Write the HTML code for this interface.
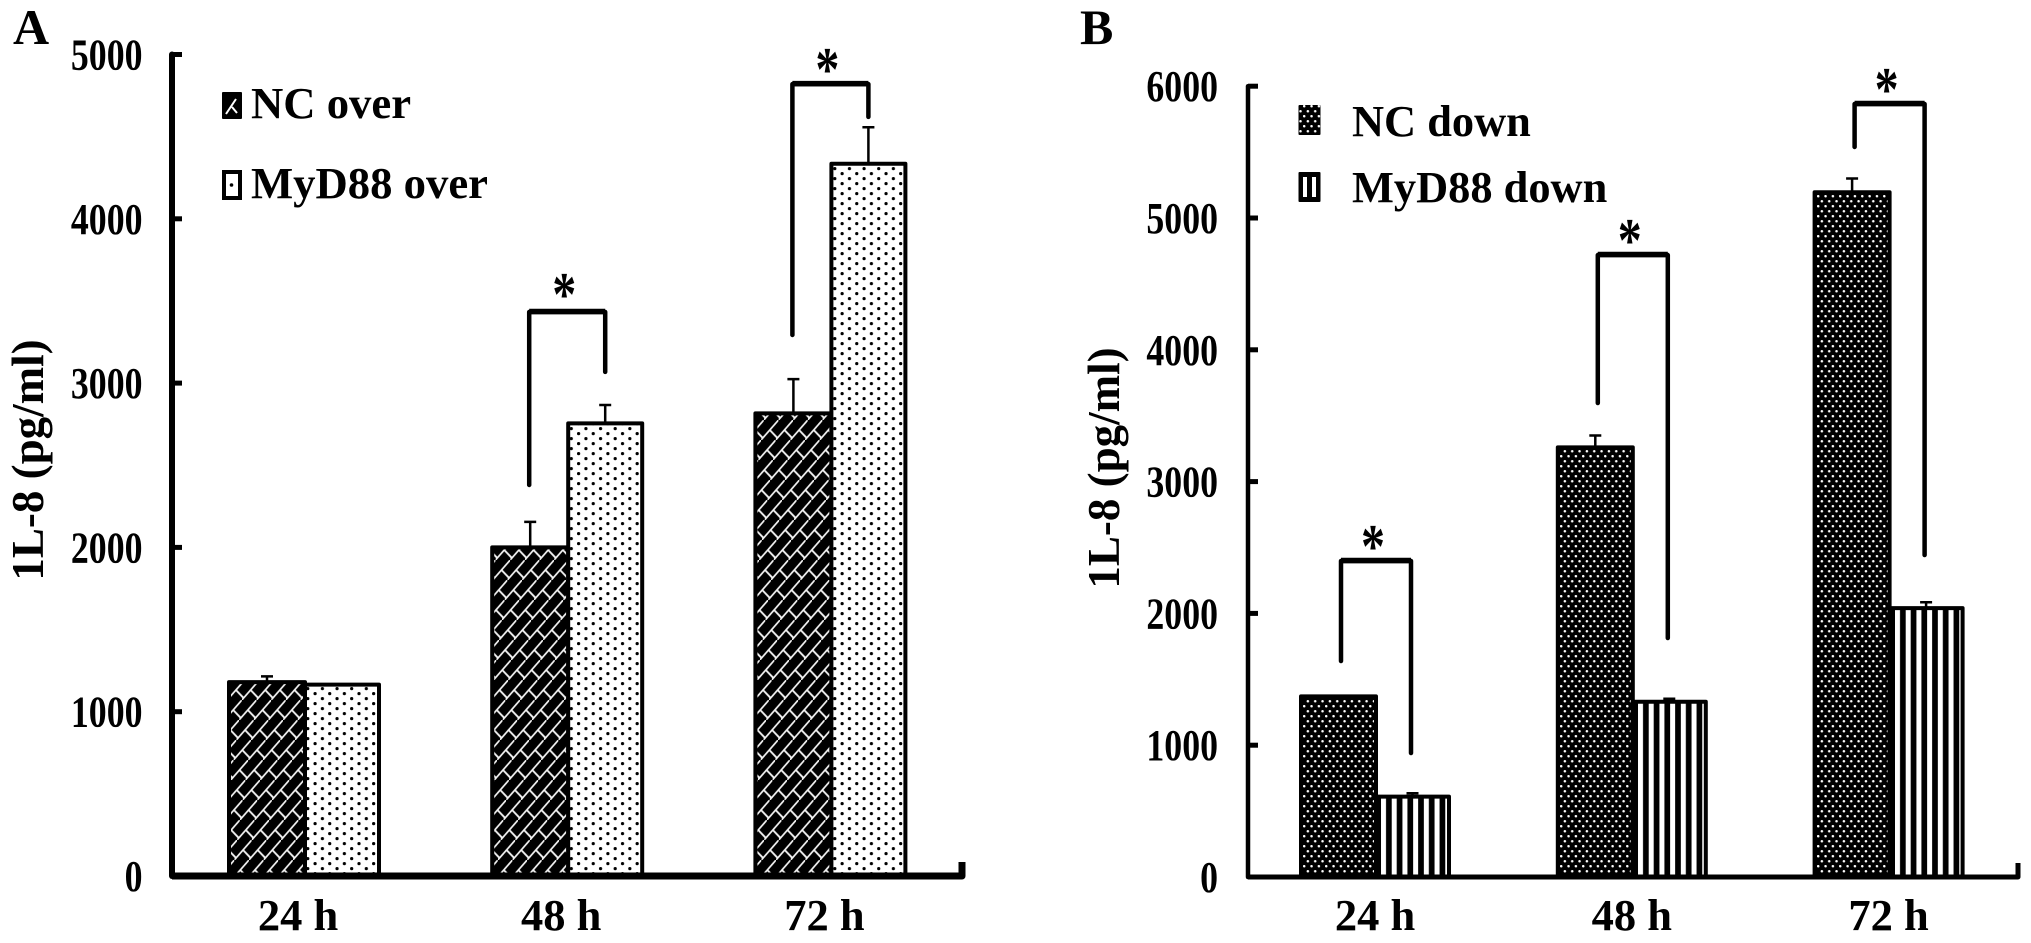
<!DOCTYPE html>
<html lang="en">
<head>
<meta charset="utf-8">
<title>IL-8 bar charts</title>
<style>
html,body{margin:0;padding:0;background:#fff;}
svg{display:block;}
text{font-family:"Liberation Serif",serif;font-weight:bold;fill:#000;}
</style>
</head>
<body>
<svg id="figure" xmlns="http://www.w3.org/2000/svg" width="2031" height="943" viewBox="0 0 2031 943">
<defs>
<pattern id="brick" patternUnits="userSpaceOnUse" width="14.64" height="20" patternTransform="translate(490,600) skewX(-7.9)">
<rect width="14.64" height="20" fill="#000"/>
<path d="M-1,21.36 L15.64,-1.36 M7.32,10 L16.1,18 M-7.32,10 L1.46,18" stroke="#f4f4f4" stroke-width="1.8" fill="none"/>
</pattern>
<pattern id="sparse-dots" patternUnits="userSpaceOnUse" width="14.64" height="10" patternTransform="translate(577,432)">
<rect width="14.64" height="10" fill="#fff"/>
<circle cx="1.6" cy="1.6" r="1.6" fill="#000"/>
<circle cx="8.92" cy="6.6" r="1.6" fill="#000"/>
</pattern>
<pattern id="white-dots" patternUnits="userSpaceOnUse" width="7.343" height="10" patternTransform="translate(1817,195)">
<rect width="7.343" height="10" fill="#000"/>
<circle cx="1.2" cy="1.2" r="1.25" fill="#fff"/>
<circle cx="4.87" cy="6.2" r="1.25" fill="#fff"/>
</pattern>
<pattern id="stripes" patternUnits="userSpaceOnUse" width="10.708" height="10" patternTransform="translate(1895,0)">
<rect width="10.708" height="10" fill="#000"/>
<rect width="5" height="10" fill="#fff"/>
</pattern>
</defs>

<text x="13" y="44" font-size="50">A</text>
<text x="1080" y="44" font-size="50">B</text>

<text transform="translate(43,460) rotate(-90)" text-anchor="middle" font-size="45">1L-8 (pg/ml)</text>
<text transform="translate(1119,468) rotate(-90)" text-anchor="middle" font-size="45">1L-8 (pg/ml)</text>

<g id="panel-a"></g>
<g id="panel-b"></g>

<g>
<g>
<rect x="222" y="92" width="20" height="27" rx="1" fill="#000"/>
<path d="M226,114 L236,99 M232,107 L237,113" stroke="#fff" stroke-width="2" fill="none"/>
<text x="251" y="118" font-size="44.7">NC over</text>
</g>
<g>
<rect x="224" y="172" width="16" height="26" fill="#fff" stroke="#000" stroke-width="4"/>
<circle cx="231.5" cy="185" r="1.8" fill="#000"/>
<text x="251" y="198" font-size="44.7">MyD88 over</text>
</g>
</g>

<g>
<g>
<rect x="1298.5" y="105" width="22" height="30" rx="1" fill="url(#white-dots)"/>
<text x="1352" y="136" font-size="44.4">NC down</text>
</g>
<g>
<rect x="1298.5" y="172" width="22" height="30" rx="1" fill="#000"/>
<rect x="1303" y="177" width="4" height="20" fill="#fff"/>
<rect x="1312" y="177" width="4" height="20" fill="#fff"/>
<text x="1352" y="202" font-size="44.4">MyD88 down</text>
</g>
</g>

<script>
// Shared categories
var categories = ['24 h', '48 h', '72 h'];

// Panel A data
var aTicks = [0, 1000, 2000, 3000, 4000, 5000];
var aNcValues = [1180, 2000, 2816];
var aNcErrors = [35, 155, 208];
var aMydValues = [1165, 2755, 4335];
var aMydErrors = [0, 112, 222];
var aBracketTops = [null, 3433, 4820];
var aBracketLeftEnds = [null, 2380, 3293];
var aBracketRightEnds = [null, 3068, 4620];
var aStarLifts = [null, 27, 24];

// Panel B data
var bTicks = [0, 1000, 2000, 3000, 4000, 5000, 6000];
var bNcValues = [1370, 3260, 5195];
var bNcErrors = [0, 90, 105];
var bMydValues = [610, 1330, 2040];
var bMydErrors = [25, 22, 45];
var bBracketTops = [2398, 4719, 5865];
var bBracketLeftEnds = [1639, 3596, 5539];
var bBracketRightEnds = [941, 1813, 2443];
var bStarLifts = [24, 24, 24];

var SVGNS = 'http://www.w3.org/2000/svg';

function yA(v) { return 876 - v * 0.1643; }
function xA(i) { return 305 + i * 263.2; }
function yB(v) { return 877 - v * 0.1318; }
function xB(i) { return 1376 + i * 256.8; }

function make(parent, tag, attrs, text) {
  var el = document.createElementNS(SVGNS, tag);
  for (var k in attrs) { el.setAttribute(k, attrs[k]); }
  if (text !== undefined) { el.textContent = text; }
  parent.appendChild(el);
  return el;
}

function drawPanel(cfg) {
  var g = document.getElementById(cfg.id);
  var i, el;
  for (i = 0; i < categories.length; i++) {
    var c = cfg.x(i);
    var y1 = cfg.y(cfg.nc[i]);
    var y2 = cfg.y(cfg.myd[i]);
    var base = cfg.y(0);

    el = make(g, 'rect', {x: c - cfg.ncW, y: y1, width: cfg.ncW, height: base - y1, fill: cfg.ncFill, stroke: '#000', 'stroke-width': 4, 'stroke-linejoin': 'round'});
    
    

    el = make(g, 'rect', {x: c, y: y2, width: cfg.mydW, height: base - y2, fill: cfg.mydFill, stroke: '#000', 'stroke-width': 4, 'stroke-linejoin': 'round'});
    
    

    var ex1 = c - cfg.ncW / 2;
    var ex2 = c + cfg.mydW / 2;
    if (cfg.ncErr[i] > 0) {
      var t1 = cfg.y(cfg.nc[i] + cfg.ncErr[i]);
      el = make(g, 'path', {d: 'M' + ex1 + ',' + y1 + ' V' + t1 + ' M' + (ex1 - 6) + ',' + t1 + ' H' + (ex1 + 6), fill: 'none', stroke: '#000', 'stroke-width': 2.5});
      
      
    }
    if (cfg.mydErr[i] > 0) {
      var t2 = cfg.y(cfg.myd[i] + cfg.mydErr[i]);
      el = make(g, 'path', {d: 'M' + ex2 + ',' + y2 + ' V' + t2 + ' M' + (ex2 - 6) + ',' + t2 + ' H' + (ex2 + 6), fill: 'none', stroke: '#000', 'stroke-width': 2.5});
      
      
    }

    el = make(g, 'text', {x: c + cfg.labelDx, y: 930, 'text-anchor': 'middle', 'font-size': 44.5}, categories[i]);
    
    

    if (cfg.top[i] !== null) {
      var bl = c + cfg.brL;
      var br = c + cfg.brR;
      var by = cfg.y(cfg.top[i]);
      el = make(g, 'path', {d: 'M' + bl + ',' + cfg.y(cfg.left[i]) + ' V' + by + ' H' + br + ' V' + cfg.y(cfg.right[i]), fill: 'none', stroke: '#000', 'stroke-width': 4.5, 'stroke-linecap': 'round', 'stroke-linejoin': 'round'});
      
      

      el = make(g, 'line', {x1: bl, y1: by - 0.5, x2: br, y2: by - 0.5, stroke: '#000', 'stroke-width': 5.5});
      
      

      el = make(g, 'text', {x: (bl + br) / 2 - 3, y: by - cfg.lift[i] + 30, 'text-anchor': 'middle', 'font-size': 62, textLength: 24, lengthAdjust: 'spacingAndGlyphs'}, '*');
      
      
    }
  }

  el = make(g, 'path', {d: 'M' + cfg.axisX + ',' + cfg.y(cfg.ticks[cfg.ticks.length - 1]) + ' V' + cfg.y(0), fill: 'none', stroke: '#000', 'stroke-width': cfg.yStroke, 'stroke-linecap': 'round'});
  
  

  el = make(g, 'path', {d: 'M' + cfg.axisX + ',' + cfg.y(0) + ' H' + cfg.axisEnd + ' V' + cfg.endTop, fill: 'none', stroke: '#000', 'stroke-width': cfg.xStroke, 'stroke-linejoin': 'round'});
  
  

  for (i = 0; i < cfg.ticks.length; i++) {
    var ty = cfg.y(cfg.ticks[i]);
    if (cfg.ticks[i] > 0) {
      el = make(g, 'line', {x1: cfg.axisX, y1: ty, x2: cfg.axisX + 10, y2: ty, stroke: '#000', 'stroke-width': 5});
      
      
    }
    var label = String(cfg.ticks[i]);
    el = make(g, 'text', {x: cfg.tickRight, y: ty + 15, 'text-anchor': 'end', 'font-size': 44, textLength: label.length * 17.9, lengthAdjust: 'spacingAndGlyphs'}, label);
    
    
  }
}

drawPanel({
  id: 'panel-a', x: xA, y: yA, ticks: aTicks,
  nc: aNcValues, ncErr: aNcErrors, myd: aMydValues, mydErr: aMydErrors,
  top: aBracketTops, left: aBracketLeftEnds, right: aBracketRightEnds, lift: aStarLifts,
  ncW: 76, mydW: 74, ncFill: 'url(#brick)', mydFill: 'url(#sparse-dots)',
  brL: -39, brR: 37, labelDx: -7,
  axisX: 172, axisEnd: 962, endTop: 862, yStroke: 6, xStroke: 7, tickRight: 142.5
});

drawPanel({
  id: 'panel-b', x: xB, y: yB, ticks: bTicks,
  nc: bNcValues, ncErr: bNcErrors, myd: bMydValues, mydErr: bMydErrors,
  top: bBracketTops, left: bBracketLeftEnds, right: bBracketRightEnds, lift: bStarLifts,
  ncW: 75, mydW: 73, ncFill: 'url(#white-dots)', mydFill: 'url(#stripes)',
  brL: -35, brR: 35, labelDx: -1,
  axisX: 1248, axisEnd: 2018, endTop: 863, yStroke: 4.5, xStroke: 5, tickRight: 1218
});
</script>
</svg>
</body>
</html>
